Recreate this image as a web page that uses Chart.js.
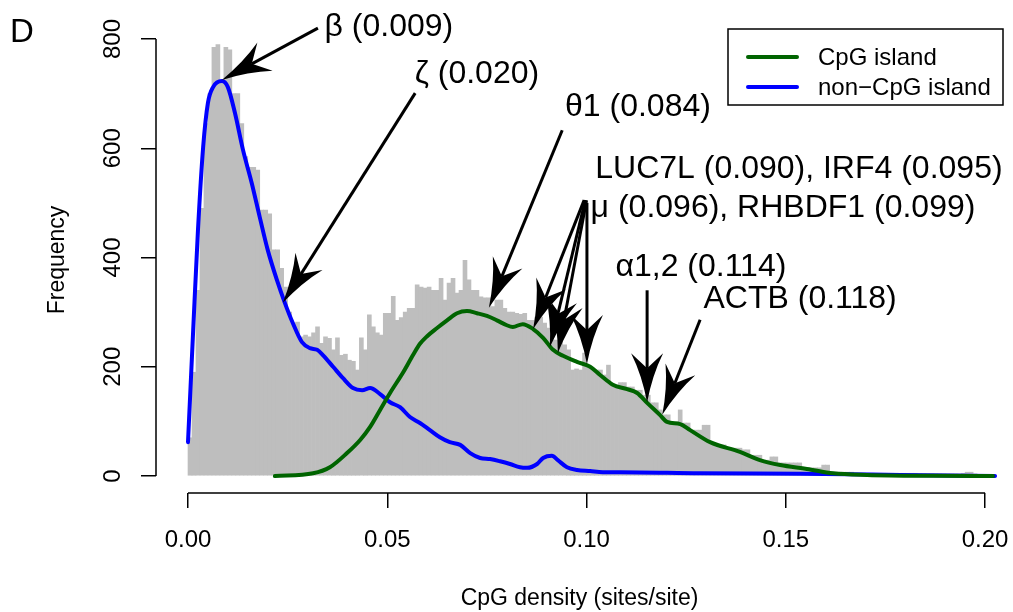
<!DOCTYPE html>
<html>
<head>
<meta charset="utf-8">
<script src="https://cdn.jsdelivr.net/npm/chart.js@4.4.0/dist/chart.umd.min.js"></script>
<style>
html, body { margin: 0; padding: 0; background: #fff; }
</style>
</head>
<body>
<canvas id="cpg_density_chart" width="1013" height="612"></canvas>
<script>
"use strict"

// histogram of CpG density, bins of 0.001 starting at 0
var binStart = 0;
var binWidth = 0.001;
var histCounts = [
    70, 190, 340, 490, 645, 700, 785, 790, 725, 785,
    780, 700, 700, 645, 585, 565, 565, 560, 487, 487,
    480, 414, 414, 380, 346, 300, 280, 282, 255, 258,
    255, 262, 273, 243, 255, 252, 231, 253, 221, 223,
    212, 210, 194, 253, 231, 295, 273, 262, 258, 298,
    298, 329, 285, 290, 300, 307, 307, 350, 346, 344,
    346, 340, 340, 362, 322, 353, 362, 335, 340, 395,
    359, 340, 340, 328, 326, 326, 310, 322, 322, 307,
    300, 300, 298, 296, 298, 285, 285, 291, 291, 280,
    271, 249, 249, 249, 240, 231, 194, 196, 194, 225,
    198, 194, 194, 194, 185, 203, 167, 167, 171, 171,
    163, 163, 157, 157, 148, 148, 134, 134, 121, 112,
    112, 99, 99, 121, 97, 97, 84, 84, 84, 93,
    93, 60, 60, 57, 57, 51, 51, 51, 51, 48,
    48, 38, 38, 38, 29, 29, 35, 35, 24, 24,
    24, 24, 24, 24, 15, 15, 15, 15, 15, 20,
    20, 7, 7, 7, 7, 7, 7, 5, 5, 5,
    5, 5, 5, 5, 5, 5, 5, 5, 5, 5,
    5, 5, 5, 4, 4, 4, 4, 4, 4, 4,
    4, 4, 4, 4, 5, 7, 7, 4, 3, 2
];

// density curves (scaled to frequency)
var nonCpgX = [0.0000, 0.0013, 0.0025, 0.0038, 0.0050, 0.0063, 0.0085, 0.0100, 0.0118, 0.0138,
    0.0160, 0.0180, 0.0200, 0.0223, 0.0243, 0.0263, 0.0286, 0.0306, 0.0324, 0.0339,
    0.0364, 0.0389, 0.0414, 0.0437, 0.0457, 0.0482, 0.0507, 0.0532, 0.0557, 0.0582,
    0.0607, 0.0632, 0.0657, 0.0683, 0.0708, 0.0733, 0.0758, 0.0783, 0.0808, 0.0833,
    0.0851, 0.0876, 0.0891, 0.0913, 0.0928, 0.0951, 0.0976, 0.1009, 0.1041, 0.1084,
    0.1285, 0.1536, 0.1787, 0.2025];
var nonCpgY = [62, 267, 450, 602, 683, 712, 723, 712, 664, 597,
    536, 474, 414, 359, 317, 280, 245, 234, 231, 221,
    200, 179, 161, 157, 161, 150, 135, 126, 108, 97,
    84, 71, 62, 57, 42, 33, 31, 27, 22, 16,
    15, 22, 33, 37, 29, 16, 11, 9, 7, 7,
    5, 4, 2, 0];

var cpgX = [0.0218, 0.0314, 0.0356, 0.0399, 0.0432, 0.0457, 0.0482, 0.0507, 0.0540, 0.0565,
    0.0582, 0.0600, 0.0625, 0.0650, 0.0675, 0.0700, 0.0725, 0.0750, 0.0775, 0.0800,
    0.0815, 0.0840, 0.0866, 0.0891, 0.0916, 0.0941, 0.0976, 0.1009, 0.1034, 0.1066,
    0.1102, 0.1127, 0.1152, 0.1184, 0.1202, 0.1235, 0.1260, 0.1310, 0.1385, 0.1435,
    0.1486, 0.1553, 0.1619, 0.1704, 0.1870, 0.2020];
var cpgY = [0, 5, 16, 42, 66, 90, 121, 152, 190, 222,
    242, 256, 271, 285, 298, 302, 298, 293, 285, 276,
    273, 278, 269, 253, 231, 220, 209, 200, 185, 167,
    159, 152, 134, 112, 99, 95, 84, 62, 44, 29,
    20, 13, 5, 2, 0.4, 0];

var xTicks = [0, 0.05, 0.10, 0.15, 0.20];
var yTicks = [0, 200, 400, 600, 800];

// gene labels, positions in data units
var noteTexts = ['\u03b2 (0.009)', '\u03b6 (0.020)', '\u03b81 (0.084)',
    'LUC7L (0.090), IRF4 (0.095)', '\u03bc (0.096), RHBDF1 (0.099)',
    '\u03b11,2 (0.114)', 'ACTB (0.118)'];
var noteX = [0.0504, 0.0725, 0.1129, 0.1533, 0.1493, 0.1287, 0.1536];
var noteY = [825, 739, 679, 566, 494, 386, 328];

// arrows: tail x, tail y, tip x, tip y
var arrows = [
    [0.0326, 820, 0.0085, 725],
    [0.0570, 701, 0.0238, 317],
    [0.0939, 633, 0.0755, 308],
    [0.0994, 505, 0.0866, 269],
    [0.0997, 505, 0.0908, 236],
    [0.1000, 505, 0.0928, 225],
    [0.1001, 500, 0.1001, 205],
    [0.1152, 340, 0.1152, 135],
    [0.1285, 286, 0.1190, 112]
];

var histData = histCounts.map(function(c, i){
    return {x: binStart + (i + 0.5) * binWidth, y: c};
});
var nonCpgData = nonCpgX.map(function(x, i){ return {x: x, y: nonCpgY[i]}; });
var cpgData = cpgX.map(function(x, i){ return {x: x, y: cpgY[i]}; });

Chart.defaults.font.family = "'Liberation Sans', Arial, sans-serif";
Chart.defaults.color = '#000';

function drawArrow(ctx, x0, y0, x1, y1){
    var dx = x0 - x1, dy = y0 - y1, len = Math.hypot(dx, dy);
    var ux = dx / len, uy = dy / len, nx = -uy, ny = ux;
    var L = 49, W = 16, N = 34;
    ctx.beginPath();
    ctx.moveTo(x0, y0);
    ctx.lineTo(x1 + ux * N, y1 + uy * N);
    ctx.stroke();
    ctx.beginPath();
    ctx.moveTo(x1, y1);
    ctx.quadraticCurveTo(x1 + ux * L * 0.55 + nx * W * 0.32, y1 + uy * L * 0.55 + ny * W * 0.32,
        x1 + ux * L + nx * W, y1 + uy * L + ny * W);
    ctx.lineTo(x1 + ux * N, y1 + uy * N);
    ctx.lineTo(x1 + ux * L - nx * W, y1 + uy * L - ny * W);
    ctx.quadraticCurveTo(x1 + ux * L * 0.55 - nx * W * 0.32, y1 + uy * L * 0.55 - ny * W * 0.32, x1, y1);
    ctx.closePath();
    ctx.fill();
}

var rStyle = {
    id: 'rStyle',
    afterDraw: function(chart){
        var ctx = chart.ctx, xs = chart.scales.x, ys = chart.scales.y, area = chart.chartArea;
        ctx.save();
        // axis lines only span the ticks, like R
        ctx.strokeStyle = '#000';
        ctx.lineWidth = 1.5;
        ctx.beginPath();
        ctx.moveTo(xs.getPixelForValue(xTicks[0]), area.bottom);
        ctx.lineTo(xs.getPixelForValue(xTicks[xTicks.length - 1]), area.bottom);
        ctx.moveTo(area.left, ys.getPixelForValue(yTicks[0]));
        ctx.lineTo(area.left, ys.getPixelForValue(yTicks[yTicks.length - 1]));
        ctx.stroke();

        // arrows
        ctx.strokeStyle = '#000';
        ctx.fillStyle = '#000';
        ctx.lineWidth = 3;
        arrows.forEach(function(a){
            drawArrow(ctx, xs.getPixelForValue(a[0]), ys.getPixelForValue(a[1]),
                xs.getPixelForValue(a[2]), ys.getPixelForValue(a[3]));
        });

        // labels
        ctx.font = "32px 'Liberation Sans', Arial, sans-serif";
        ctx.textAlign = 'center';
        ctx.textBaseline = 'middle';
        noteTexts.forEach(function(t, i){
            ctx.fillText(t, xs.getPixelForValue(noteX[i]), ys.getPixelForValue(noteY[i]) + 2);
        });

        // panel letter
        ctx.font = "33px 'Liberation Sans', Arial, sans-serif";
        ctx.textAlign = 'left';
        ctx.fillText('D', 10, 33);

        // legend box, top right of the plot region
        var bw = 275, bh = 76;
        var bx = area.right - bw, by = area.top + 2;
        ctx.fillStyle = '#fff';
        ctx.fillRect(bx, by, bw, bh);
        ctx.lineWidth = 1.5;
        ctx.strokeRect(bx, by, bw, bh);
        ctx.font = "24px 'Liberation Sans', Arial, sans-serif";
        var items = [chart.data.datasets[0], chart.data.datasets[1]];
        items.forEach(function(ds, i){
            var ly = by + 28 + i * 30;
            ctx.strokeStyle = ds.borderColor;
            ctx.lineWidth = 4;
            ctx.lineCap = 'round';
            ctx.beginPath();
            ctx.moveTo(bx + 20, ly);
            ctx.lineTo(bx + 69, ly);
            ctx.stroke();
            ctx.fillStyle = '#000';
            ctx.textAlign = 'left';
            ctx.fillText(ds.label, bx + 90, ly + 1);
        });
        ctx.restore();
    }
};

function noPad(scale){
    scale.paddingLeft = 0;
    scale.paddingRight = 0;
    scale.paddingTop = 0;
    scale.paddingBottom = 0;
}

var chart = new Chart(document.getElementById('cpg_density_chart'), {
    type: 'bar',
    data: {
        datasets: [
            {
                type: 'line',
                label: 'CpG island',
                data: cpgData,
                borderColor: '#006400',
                borderWidth: 4,
                borderCapStyle: 'round',
                pointRadius: 0,
                cubicInterpolationMode: 'monotone',
                fill: false,
                order: 1
            },
            {
                type: 'line',
                label: 'non\u2212CpG island',
                data: nonCpgData,
                borderColor: '#0000FF',
                borderWidth: 4,
                borderCapStyle: 'round',
                pointRadius: 0,
                cubicInterpolationMode: 'monotone',
                fill: false,
                order: 2
            },
            {
                label: 'all',
                data: histData,
                backgroundColor: '#BEBEBE',
                borderWidth: 0,
                barPercentage: 1,
                categoryPercentage: 1,
                order: 3
            }
        ]
    },
    options: {
        responsive: false,
        animation: false,
        devicePixelRatio: 1,
        layout: { padding: { left: 0, top: 27, right: 10, bottom: 0 } },
        plugins: {
            legend: { display: false },
            tooltip: { enabled: false }
        },
        scales: {
            x: {
                type: 'linear',
                min: -0.00803,
                max: 0.2045,
                offset: false,
                grid: { offset: false, drawOnChartArea: false, drawTicks: true, tickLength: 15, color: '#000', lineWidth: 1.5 },
                border: { display: false },
                afterBuildTicks: function(scale){
                    scale.ticks = xTicks.map(function(v){ return {value: v}; });
                },
                afterFit: function(scale){ scale.height = 119; noPad(scale); },
                ticks: {
                    autoSkip: false,
                    maxRotation: 0,
                    padding: 18,
                    font: { size: 24 },
                    callback: function(v){ return v.toFixed(2); }
                },
                title: {
                    display: true,
                    text: 'CpG density (sites/site)',
                    font: { size: 23 },
                    padding: { top: 0, bottom: 0 }
                }
            },
            y: {
                type: 'linear',
                min: -31.1,
                max: 822,
                grid: { drawOnChartArea: false, drawTicks: true, tickLength: 15, color: '#000', lineWidth: 1.5 },
                border: { display: false },
                afterBuildTicks: function(scale){
                    scale.ticks = yTicks.map(function(v){ return {value: v}; });
                },
                afterFit: function(scale){ scale.width = 156; noPad(scale); },
                ticks: {
                    autoSkip: false,
                    minRotation: 90,
                    maxRotation: 90,
                    crossAlign: 'center',
                    padding: 8,
                    font: { size: 24 },
                    callback: function(v){ return String(v); }
                },
                title: {
                    display: true,
                    text: 'Frequency',
                    font: { size: 23 },
                    padding: { top: 44, bottom: 0 }
                }
            }
        }
    },
    plugins: [rStyle]
});
</script>
</body>
</html>
